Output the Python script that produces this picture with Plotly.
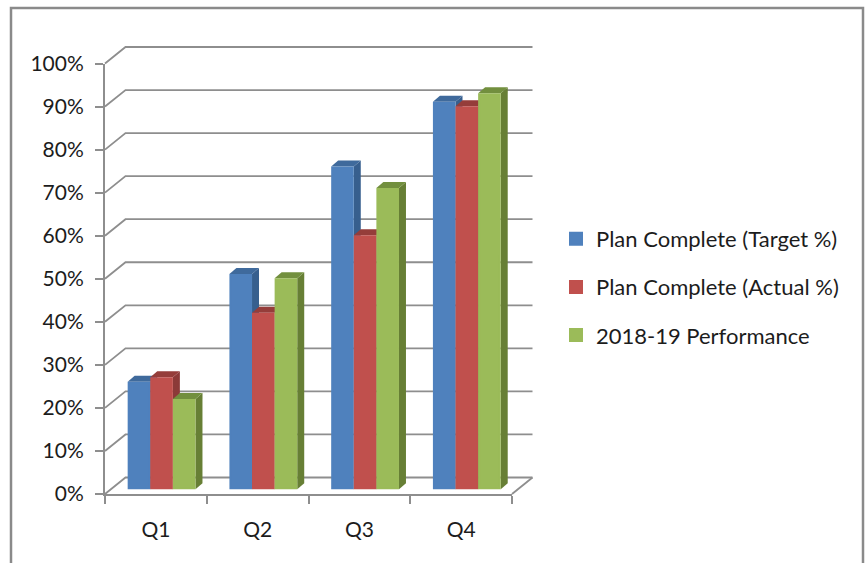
import plotly.graph_objects as go

categories = ["Q1", "Q2", "Q3", "Q4"]
series_names = ["Plan Complete (Target %)", "Plan Complete (Actual %)", "2018-19 Performance"]
target_values = [25, 50, 75, 90]
actual_values = [26, 41, 59, 89]
performance_values = [21, 49, 70, 92]
y_ticks = list(range(0, 101, 10))
y_labels = [f"{v}%" for v in y_ticks]

series = [target_values, actual_values, performance_values]
front = ["#4F81BD", "#C0504D", "#9BBB59"]
side = ["#375F8E", "#8C3A38", "#677F35"]
top = ["#3F6A9C", "#953D3A", "#728F3E"]
GRID = "#8E8E8E"
TEXT = "#1c1c1c"
FONT = "Lato"

W, H = 866, 563
L, R, B, T = 105, 512, 494, 63.5
n = len(categories)
px_x = (R - L) / n
px_y = (B - T) / 100
wall_dx, wall_dy = 20.5 / px_x, 16.5 / px_y
bar_shift_x, bar_shift_y = 5.7 / px_x, 4.7 / px_y
bar_dx, bar_dy = 7 / px_x, 6 / px_y
bar_w = 22.6 / px_x
group_w = bar_w * 3
edge = 1 / px_x  # half of the outline that enlarges each front face
PAD = 3  # px of room around the back subplot so its edge lines are not clipped

fig = go.Figure()

# back wall and floor grid lines (lower subplot, extended by the wall depth)
gx, gy = [], []
for v in y_ticks:
    gx += [0, wall_dx, n + wall_dx, None]
    gy += [v, v + wall_dy, v + wall_dy, None]
gx += [n, n + wall_dx]
gy += [0, wall_dy]
fig.add_trace(go.Scatter(x=gx, y=gy, mode="lines", line=dict(color=GRID, width=1.8),
                         showlegend=False, hoverinfo="skip", xaxis="x", yaxis="y"))

# depth faces, painted series by series behind the front faces
for c in range(n):
    for s, vals in enumerate(series):
        x0 = c + 0.5 - group_w / 2 + bar_shift_x + s * bar_w
        x1 = x0 + bar_w
        y0 = bar_shift_y
        y1 = y0 + vals[c]
        fig.add_trace(go.Scatter(
            x=[x1, x1 + bar_dx, x1 + bar_dx, x1, x1], y=[y0, y0 + bar_dy, y1 + bar_dy, y1, y0],
            mode="lines", fill="toself", fillcolor=side[s], line=dict(width=0),
            showlegend=False, hoverinfo="skip", xaxis="x", yaxis="y"))
        fig.add_trace(go.Scatter(
            x=[x0, x0 + bar_dx, x1 + bar_dx, x1, x0], y=[y1, y1 + bar_dy, y1 + bar_dy, y1, y1],
            mode="lines", fill="toself", fillcolor=top[s], line=dict(width=0),
            showlegend=False, hoverinfo="skip", xaxis="x", yaxis="y"))

# front faces (upper subplot carrying the visible axes)
for s, vals in enumerate(series):
    fig.add_trace(go.Bar(
        name=series_names[s], legendgroup=series_names[s],
        x=[c + 0.5 - group_w / 2 + bar_shift_x + (s + 0.5) * bar_w for c in range(n)],
        y=[v - 2 / px_y for v in vals], base=bar_shift_y + 1 / px_y, width=bar_w - 2 * edge,
        marker=dict(color=front[s], line=dict(width=2, color=front[s])),
        xaxis="x2", yaxis="y2"))

back_right = R + wall_dx * px_x + PAD
back_top = T - wall_dy * px_y - PAD
fig.update_layout(
    width=W, height=H, autosize=False,
    margin=dict(l=0, r=0, t=0, b=0),
    paper_bgcolor="white", plot_bgcolor="rgba(0,0,0,0)",
    font=dict(family=FONT, size=21, color=TEXT),
    barmode="overlay",
    xaxis=dict(domain=[(L - PAD) / W, back_right / W],
               range=[-PAD / px_x, n + wall_dx + PAD / px_x], visible=False, automargin=False),
    yaxis=dict(domain=[(H - B - PAD) / H, (H - back_top) / H],
               range=[-PAD / px_y, 100 + wall_dy + PAD / px_y], visible=False, automargin=False),
    xaxis2=dict(domain=[L / W, R / W], range=[0, n], anchor="y2",
                tickvals=[c + 0.5 for c in range(n)],
                ticktext=categories, ticks="", ticklabelstandoff=16, showgrid=False, zeroline=False,
                showline=True, linecolor=GRID, linewidth=2, automargin=False,
                minor=dict(tickvals=list(range(n + 1)), ticks="outside", ticklen=8,
                           tickcolor=GRID, tickwidth=2, showgrid=False),
                tickfont=dict(size=21, family=FONT, color=TEXT)),
    yaxis2=dict(domain=[(H - B) / H, (H - T) / H], range=[0, 100], anchor="x2",
                tickvals=y_ticks, ticktext=y_labels, ticks="outside",
                ticklen=8, tickcolor=GRID, tickwidth=2, showgrid=False, zeroline=False,
                showline=True, linecolor=GRID, linewidth=2, ticklabelstandoff=7, automargin=False,
                tickfont=dict(size=21, family=FONT, color=TEXT)),
    legend=dict(x=556 / W, y=1 - 218 / H, xanchor="left", yanchor="top",
                tracegroupgap=16.5, font=dict(size=22, family=FONT, color=TEXT),
                bgcolor="rgba(0,0,0,0)"),
    shapes=[dict(type="path", xref="paper", yref="paper",
                 path=f"M {11/W},0 L {11/W},{1-8/H} L {863/W},{1-8/H} L {863/W},0",
                 line=dict(color="#8A8A8A", width=2.5))],
)
fig.write_html("out.html", config=dict(displayModeBar=False),
               post_script="document.body.style.margin='0';document.documentElement.style.overflow='hidden';")
